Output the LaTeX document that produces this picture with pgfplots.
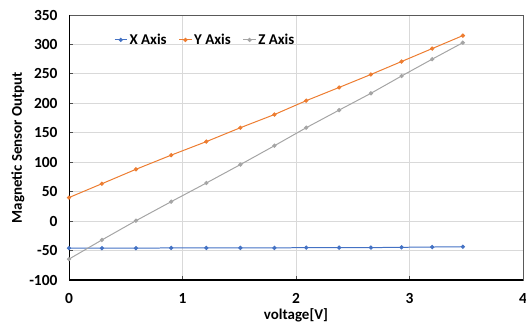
\documentclass[border=0pt]{standalone}
\usepackage{fontspec}
\setmainfont{Carlito}
\usepackage{pgfplots}
\pgfplotsset{compat=1.18}
\definecolor{xblue}{RGB}{68,114,196}
\definecolor{yorange}{RGB}{237,125,49}
\definecolor{zgray}{RGB}{165,165,165}
\definecolor{gridgray}{RGB}{217,217,217}
\begin{document}
\begin{tikzpicture}
\begin{axis}[
  scale only axis,
  width=454bp, height=265bp,
  xmin=0, xmax=4, ymin=-100, ymax=350,
  xtick={0,1,2,3,4}, ytick={-100,-50,0,50,100,150,200,250,300,350},
  grid=major,
  grid style={gridgray, line width=0.8pt},
  axis line style={draw=black!65, line width=0.8pt},
  tick align=inside,
  xtick pos=bottom, ytick pos=left,
  major tick length=4bp,
  tick style={black!70, line width=0.8pt},
  /pgf/number format/assume math mode=true,
  ticklabel style={font=\fontsize{15.5}{17}\selectfont\bfseries},
  xticklabel style={yshift=-10bp},
  yticklabel style={xshift=-8bp},
  xlabel={voltage[V]},
  ylabel={Magnetic Sensor Output},
  label style={font=\fontsize{15}{17}\selectfont\bfseries},
  xlabel style={yshift=2bp},
  ylabel style={yshift=-2bp},
  legend style={at={(0.30,0.906)}, anchor=center, draw=none, fill=none,
    legend columns=3, font=\fontsize{15}{17}\selectfont\bfseries,
    /tikz/every even column/.append style={column sep=10bp}},
  legend image code/.code={\draw[mark repeat=2,mark phase=2] plot coordinates {(0cm,0cm) (0.22cm,0cm) (0.44cm,0cm)};},
  every axis plot/.append style={line width=1pt, mark=*, mark size=1.6pt},
]
\addplot[xblue, mark options={fill=xblue, draw=xblue}] coordinates {
(0,-46) (0.29,-46) (0.59,-46) (0.90,-45.5) (1.21,-45.5) (1.51,-45.5) (1.81,-45.5)
(2.09,-45) (2.38,-45) (2.66,-45) (2.93,-44.5) (3.20,-44) (3.47,-43.5)};
\addlegendentry{X Axis}
\addplot[yorange, mark options={fill=yorange, draw=yorange}] coordinates {
(0,40) (0.29,63.5) (0.59,88) (0.90,112) (1.21,135) (1.51,158.6) (1.81,181)
(2.09,204.5) (2.38,227) (2.66,249) (2.93,271) (3.20,293) (3.47,315)};
\addlegendentry{Y Axis}
\addplot[zgray, mark options={fill=zgray, draw=zgray}] coordinates {
(0,-64.5) (0.29,-32) (0.59,0.7) (0.90,33) (1.21,64.7) (1.51,96) (1.81,128)
(2.09,158.6) (2.38,188.5) (2.66,217) (2.93,246.4) (3.20,275) (3.47,303)};
\addlegendentry{Z Axis}
\draw[black, line width=1.2pt] (rel axis cs:0,1) -- (rel axis cs:0,0) -- (rel axis cs:1,0);
\end{axis}
\pgfresetboundingbox
\path[use as bounding box] ([xshift=-69bp,yshift=-48bp]current axis.south west) rectangle ++(526bp,328bp);
\end{tikzpicture}
\end{document}
